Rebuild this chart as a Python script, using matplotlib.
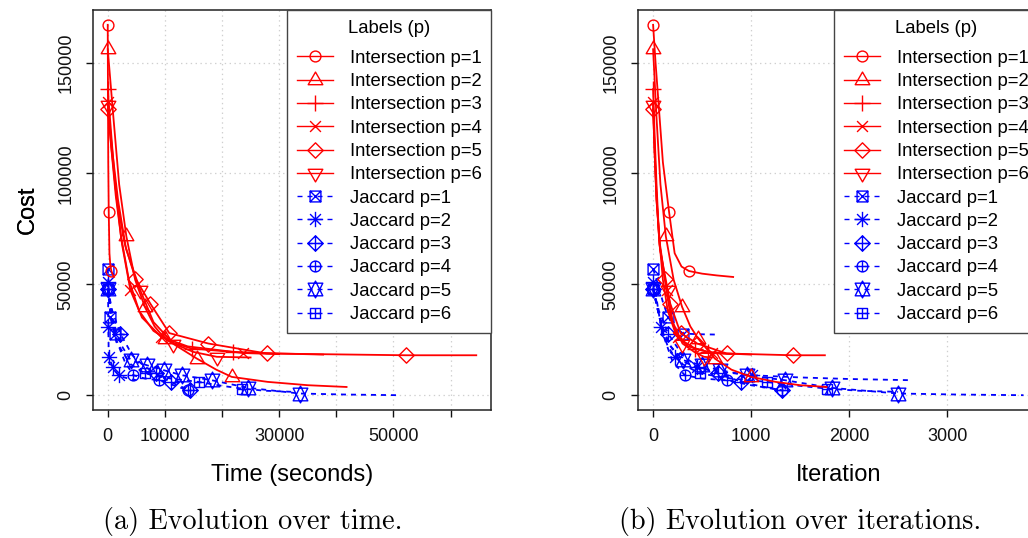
import matplotlib
matplotlib.use("Agg")
import matplotlib.pyplot as plt
from matplotlib.path import Path
import numpy as np

# ---------------------------------------------------------------- data
LABELS_I = ["Intersection p=1", "Intersection p=2", "Intersection p=3",
            "Intersection p=4", "Intersection p=5", "Intersection p=6"]
LABELS_J = ["Jaccard p=1", "Jaccard p=2", "Jaccard p=3",
            "Jaccard p=4", "Jaccard p=5", "Jaccard p=6"]
LEGEND_TITLE = "Labels (p)"

# Intersection series: cost, iteration, time (seconds)
I1_COST = [167000, 150000, 132000, 105000, 82600, 64000, 58000, 56000, 54800, 54000, 53300]
I1_ITER = [0, 25, 55, 100, 163, 220, 290, 365, 500, 650, 817]
I1_TIME = [0, 20, 45, 90, 175, 300, 470, 645, 800, 950, 1100]

I2_COST = [156000, 125000, 95000, 71600, 52000, 39800, 31000, 25500, 16500, 11500, 8250, 6000, 4500, 3700]
I2_ITER = [0, 35, 75, 130, 210, 296, 380, 460, 630, 800, 1000, 1250, 1500, 1770]
I2_TIME = [0, 1000, 2000, 3260, 4800, 6500, 8200, 10000, 15600, 19000, 21700, 28000, 35000, 41800]

I3_COST = [138000, 118000, 95000, 72000, 52000, 38000, 29000, 24000, 21000, 19500, 18800, 18300]
I3_ITER = [0, 15, 35, 60, 100, 150, 220, 320, 430, 560, 750, 1000]
I3_TIME = [0, 600, 1300, 2300, 3700, 5500, 8000, 11000, 14700, 22000, 30000, 37700]

I4_COST = [132000, 112000, 90000, 68000, 47300, 35000, 26300, 22000, 19000, 18500]
I4_ITER = [0, 15, 35, 65, 137, 180, 250, 360, 600, 800]
I4_TIME = [0, 600, 1400, 2500, 3970, 6000, 9370, 14000, 23700, 30000]

I5_COST = [129000, 110000, 88000, 68000, 52600, 41300, 28000, 23300, 18800, 18000, 18000]
I5_ITER = [0, 15, 35, 70, 120, 175, 280, 450, 750, 1423, 1753]
I5_TIME = [0, 700, 1600, 3000, 4850, 7450, 10770, 17600, 27800, 52250, 64500]

I6_COST = [131000, 110000, 88000, 66000, 47300, 33000, 23300, 19500, 17300, 17000]
I6_ITER = [0, 15, 35, 70, 150, 200, 300, 420, 520, 600]
I6_TIME = [0, 800, 1800, 3200, 5700, 8000, 11500, 15000, 19100, 25000]

# Jaccard series: cost, iteration, time (seconds)
J1_COST = [57000, 50000, 42000, 35300, 30500, 27800, 27500, 27300]
J1_ITER = [0, 50, 100, 153, 220, 306, 450, 680]
J1_TIME = [0, 150, 300, 470, 850, 1350, 2000, 3000]

J2_COST = [51000, 45000, 30800, 22000, 17300, 15800, 12500, 10500, 9000, 8000, 7300, 6750]
J2_ITER = [0, 30, 80, 150, 220, 272, 450, 700, 1005, 1500, 2000, 2640]
J2_TIME = [0, 60, 110, 150, 175, 400, 900, 1400, 1900, 2900, 3900, 5000]

J3_COST = [48000, 38000, 27800, 18000, 13000, 9800, 6000, 4000, 2250]
J3_ITER = [0, 60, 153, 300, 450, 664, 902, 1100, 1311]
J3_TIME = [0, 800, 2200, 4300, 6400, 8500, 11000, 12700, 14400]

J4_COST = [48000, 38000, 25000, 15000, 9000, 7500, 6750, 4500, 2250]
J4_ITER = [0, 50, 120, 200, 324, 500, 750, 1000, 1311]
J4_TIME = [0, 600, 1500, 3000, 4500, 6500, 8900, 11500, 14000]

J5_COST = [48000, 32000, 22000, 15800, 13500, 11300, 9000, 6750, 3300, 750, 300, 0]
J5_ITER = [0, 80, 180, 306, 494, 681, 954, 1345, 1821, 2500, 3100, 3780]
J5_TIME = [0, 1000, 2500, 4000, 6870, 9770, 13000, 18200, 24600, 33600, 41500, 50800]

J6_COST = [48000, 36000, 24000, 14000, 9800, 7500, 6000, 4200, 3000, 2000, 1500]
J6_ITER = [0, 60, 150, 300, 477, 800, 1158, 1500, 1770, 2100, 2500]
J6_TIME = [0, 500, 1500, 4000, 6500, 11000, 15900, 20000, 23450, 27500, 32500]

X_TICKS_TIME = [0, 10000, 20000, 30000, 40000, 50000, 60000]
X_TICKLABELS_TIME = ["0", "10000", "", "30000", "", "50000", ""]
X_TICKS_ITER = [0, 1000, 2000, 3000]
X_TICKLABELS_ITER = ["0", "1000", "2000", "3000"]
Y_TICKS = [0, 50000, 100000, 150000]
Y_TICKLABELS = ["0", "50000", "100000", "150000"]

CAPTIONS = ["(a) Evolution over time.", "(b) Evolution over iterations."]
XLABELS = ["Time (seconds)", "Iteration"]
YLABEL = "Cost"

# ---------------------------------------------------------------- style
INTER = [(I1_TIME, I1_ITER, I1_COST), (I2_TIME, I2_ITER, I2_COST),
         (I3_TIME, I3_ITER, I3_COST), (I4_TIME, I4_ITER, I4_COST),
         (I5_TIME, I5_ITER, I5_COST), (I6_TIME, I6_ITER, I6_COST)]
JACC = [(J1_TIME, J1_ITER, J1_COST), (J2_TIME, J2_ITER, J2_COST),
        (J3_TIME, J3_ITER, J3_COST), (J4_TIME, J4_ITER, J4_COST),
        (J5_TIME, J5_ITER, J5_COST), (J6_TIME, J6_ITER, J6_COST)]
MARK_I = [[0, 4, 7], [0, 3, 5, 7, 8, 10], [0, 8, 9], [0, 4, 6, 8],
          [0, 4, 5, 6, 7, 8, 9], [0, 4, 6, 8]]
MARK_J = [[0, 3, 5], [0, 2, 4, 6, 8], [0, 2, 5, 6, 8], [0, 4, 6, 8],
          [0, 3, 4, 5, 6, 7, 8, 9], [0, 4, 6, 8]]

RED = "#FF0000"
BLUE = "#0000FF"
LW = 1.3
MEW = 1.0
R_PT = 3.9
DASH = (0, (3.6, 3.6))

plt.rcParams["lines.scale_dashes"] = False
plt.rcParams["font.family"] = ["Liberation Sans", "DejaVu Sans"]

# R-like plotting symbols
MOVE, LINE, CLOSE = Path.MOVETO, Path.LINETO, Path.CLOSEPOLY


def poly(pts):
    verts = list(pts) + [pts[0]]
    codes = [MOVE] + [LINE] * (len(pts) - 1) + [CLOSE]
    return Path(verts, codes)


def seg(a, b):
    return Path([a, b], [MOVE, LINE])


def comp(*ps):
    return Path.make_compound_path(*ps)


TRC0 = np.sqrt(4 * np.pi / (3 * np.sqrt(3)))
TRC1 = TRC0 * np.sqrt(3) / 2
TRC2 = TRC0 / 2
S2 = np.sqrt(2)
YC = 0.5 * (TRC2 + TRC0)

circle = Path.unit_circle()
tri_up = poly([(0, TRC0), (TRC1, -TRC2), (-TRC1, -TRC2)])
tri_dn = poly([(0, -TRC0), (TRC1, TRC2), (-TRC1, TRC2)])
plus = comp(seg((-S2, 0), (S2, 0)), seg((0, -S2), (0, S2)))
times = comp(seg((-1, -1), (1, 1)), seg((-1, 1), (1, -1)))
diamond = poly([(0, S2), (S2, 0), (0, -S2), (-S2, 0)])
square = poly([(-1, -1), (1, -1), (1, 1), (-1, 1)])
small_plus = comp(seg((-1, 0), (1, 0)), seg((0, -1), (0, 1)))
sq_times = comp(square, times)
asterisk = comp(plus, times)
dia_plus = comp(diamond, plus)
circ_plus = comp(circle, small_plus)
star = comp(poly([(0, TRC0), (TRC1, -YC), (-TRC1, -YC)]),
            poly([(0, -TRC0), (TRC1, YC), (-TRC1, YC)]))
sq_plus = comp(square, small_plus)

SYM_I = [circle, tri_up, plus, times, diamond, tri_dn]
SYM_J = [sq_times, asterisk, dia_plus, circ_plus, star, sq_plus]


def msize(path):
    return 2 * np.max(np.abs(path.vertices)) * R_PT


# ---------------------------------------------------------------- figure
W, H = 1028, 538
fig = plt.figure(figsize=(W / 100, H / 100), dpi=100)


def fx(px):
    return px / W


def fy(py):
    return 1 - py / H


AX_TOP, AX_BOT = 10, 410
ax_specs = [
    dict(left=93, right=491, xlim=(-2580, 67080), ticks=X_TICKS_TIME,
         labels=X_TICKLABELS_TIME, which=0, cap_x=253),
    dict(left=638.3, right=1038.3, xlim=(-151, 3931), ticks=X_TICKS_ITER,
         labels=X_TICKLABELS_ITER, which=1, cap_x=800),
]

for k, spec in enumerate(ax_specs):
    ax = fig.add_axes([fx(spec["left"]), fy(AX_BOT),
                       fx(spec["right"] - spec["left"]), (AX_BOT - AX_TOP) / H])
    ax.set_xlim(*spec["xlim"])
    ax.set_ylim(-6680, 173680)
    ax.set_axisbelow(True)
    ax.grid(True, color="#CFCFCF", ls=(0, (1, 2.5)), lw=0.9)

    handles_j, handles_i = [], []
    for j, ser in enumerate(JACC):
        x = ser[spec["which"]]
        h, = ax.plot(x, ser[2], color=BLUE, lw=LW, ls=DASH, marker=SYM_J[j],
                     ms=msize(SYM_J[j]), mfc="none", mec=BLUE, mew=MEW,
                     markevery=MARK_J[j], label=LABELS_J[j])
        handles_j.append(h)
    for j, ser in enumerate(INTER):
        x = ser[spec["which"]]
        h, = ax.plot(x, ser[2], color=RED, lw=LW, ls="-", marker=SYM_I[j],
                     ms=msize(SYM_I[j]), mfc="none", mec=RED, mew=MEW,
                     markevery=MARK_I[j], label=LABELS_I[j])
        handles_i.append(h)

    ax.set_xticks(spec["ticks"])
    ax.set_xticklabels(spec["labels"])
    ax.set_yticks(Y_TICKS)
    ax.set_yticklabels(Y_TICKLABELS)
    ax.tick_params(axis="both", direction="out", length=5, width=1.0,
                   colors="#111111", labelsize=13)
    ax.tick_params(axis="x", pad=8)
    ax.tick_params(axis="y", pad=8.5)
    for lab in ax.get_yticklabels():
        lab.set_rotation(90)
        lab.set_va("center")
    for sp in ax.spines.values():
        sp.set_color("#222222")
        sp.set_linewidth(1.1)

    ax.set_xlabel(XLABELS[k], fontsize=17, va="center")
    ax.xaxis.set_label_coords(0.5, (AX_BOT - 475) / (AX_BOT - AX_TOP))
    ax.set_ylabel(YLABEL, fontsize=17, va="center")
    ax.yaxis.set_label_coords((28 - spec["left"]) / (spec["right"] - spec["left"]), 0.5)

    leg = ax.legend(handles=handles_i + handles_j, title=LEGEND_TITLE,
                    loc="upper right", bbox_to_anchor=(1, 1), borderaxespad=0,
                    fontsize=13.3, title_fontsize=13.3, frameon=True,
                    fancybox=False, framealpha=1, edgecolor="#444444",
                    handlelength=1.95, handletextpad=0.92, labelspacing=0.34,
                    borderpad=0.52, numpoints=1)
    leg.get_frame().set_linewidth(1.0)
    leg._legend_box.sep = 13.3 * 0.72
    for hl in leg.legend_handles:
        hl.set_linewidth(1.0)

    fig.text(fx(spec["cap_x"]), fy(521), CAPTIONS[k], ha="center", va="center",
             fontsize=20.3, family="cmr10")

fig.savefig("out.png", dpi=100)
